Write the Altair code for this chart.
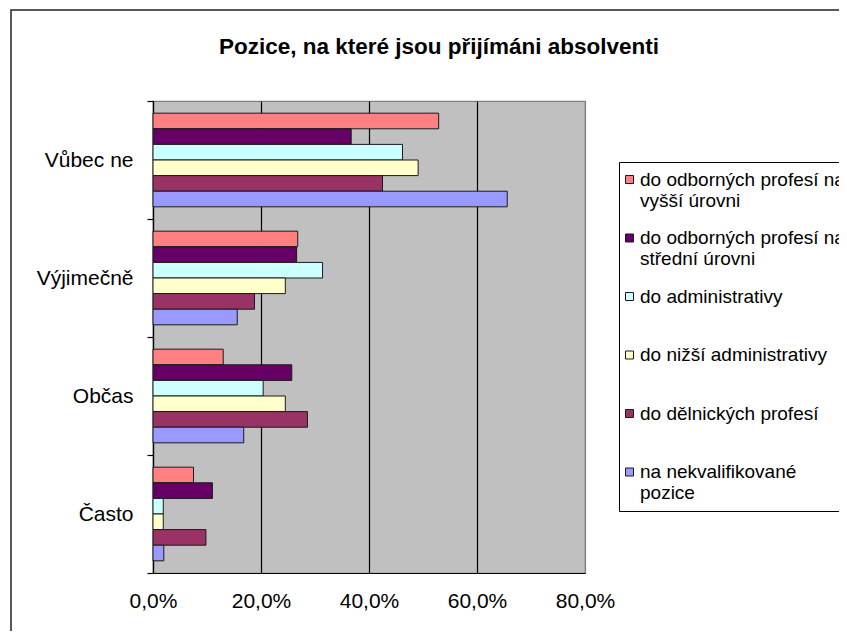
import json
import altair as alt
import pandas as pd

chart_title = "Pozice, na které jsou přijímáni absolventi"
categories = ["Vůbec ne", "Výjimečně", "Občas", "Často"]
series = [
    "do odborných profesí na vyšší úrovni",
    "do odborných profesí na střední úrovni",
    "do administrativy",
    "do nižší administrativy",
    "do dělnických profesí",
    "na nekvalifikované pozice",
]
legend_lines = [
    ["do odborných profesí na", "vyšší úrovni"],
    ["do odborných profesí na", "střední úrovni"],
    ["do administrativy", ""],
    ["do nižší administrativy", ""],
    ["do dělnických profesí", ""],
    ["na nekvalifikované", "pozice"],
]
colors = ["#FF8080", "#660066", "#CCFFFF", "#FFFFCC", "#993366", "#9999FF"]

values_vubec_ne = [52.9, 36.7, 46.2, 49.1, 42.5, 65.6]
values_vyjimecne = [26.8, 26.6, 31.4, 24.5, 18.8, 15.6]
values_obcas = [13.0, 25.7, 20.4, 24.5, 28.6, 16.8]
values_casto = [7.5, 11.0, 1.9, 1.9, 9.8, 2.0]
x_ticks = [0, 20, 40, 60, 80]

rows = []
for cat, vals in zip(categories, [values_vubec_ne, values_vyjimecne, values_obcas, values_casto]):
    for s, v in zip(series, vals):
        rows.append({"kategorie": cat, "pozice": s, "hodnota": v})
df = pd.DataFrame(rows)

legend_expr = "".join(
    f"datum.label == {json.dumps(s, ensure_ascii=False)} ? {json.dumps(l, ensure_ascii=False)} : "
    for s, l in zip(series, legend_lines)
) + "datum.label"

FONT = "Liberation Sans"

bars = alt.Chart(df).mark_bar(stroke="#1a1a1a", strokeWidth=1).encode(
    x=alt.X(
        "hodnota:Q",
        scale=alt.Scale(domain=[0, 80], nice=False),
        axis=alt.Axis(
            values=x_ticks,
            title=None,
            labelExpr="replace(format(datum.value, '.1f'), '.', ',') + '%'",
            labelFlush=False,
            grid=True,
            gridColor={"condition": {"test": "datum.value >= 80", "value": "#808080"}, "value": "#000000"},
            gridWidth=1.2,
            gridOpacity=1,
            ticks=False,
            tickSize=0,
            domainColor="#000000",
            domainWidth=1.2,
            labelFontSize=21,
            labelColor="#000000",
            labelPadding=17,
            labelFont=FONT,
        ),
    ),
    y=alt.Y(
        "kategorie:N",
        sort=categories,
        scale=alt.Scale(paddingInner=0, paddingOuter=0),
        axis=alt.Axis(
            title=None,
            tickBand="extent",
            tickSize=6,
            tickColor="#000000",
            tickWidth=1.2,
            domainColor="#000000",
            domainWidth=1.2,
            labelFontSize=21,
            labelColor="#000000",
            labelPadding=14,
            labelFont=FONT,
            grid=False,
        ),
    ),
    yOffset=alt.YOffset(
        "pozice:N",
        sort=series,
        scale=alt.Scale(domain=series, paddingOuter=0.78, paddingInner=0),
    ),
    color=alt.Color(
        "pozice:N",
        scale=alt.Scale(domain=series, range=colors),
        legend=alt.Legend(
            title=None,
            orient="none",
            legendX=466,
            legendY=61,
            labelExpr=legend_expr,
            labelFontSize=19,
            labelFont=FONT,
            labelColor="#000000",
            labelLimit=300,
            labelOffset=1,
            labelBaseline="middle",
            symbolType="square",
            symbolSize=64,
            symbolOffset=-7,
            symbolStrokeColor="#1a1a1a",
            symbolStrokeWidth=1,
            symbolOpacity=1,
            strokeColor="#000000",
            fillColor="#FFFFFF",
            padding=8,
            rowPadding=17.5,
        ),
    ),
)

frame = alt.Chart(pd.DataFrame({"a": [0]})).mark_rect(
    fill="transparent", stroke="#222222", strokeWidth=1.5
).encode(
    x=alt.value(-142),
    y=alt.value(-91),
    x2=alt.value(2000),
    y2=alt.value(2000),
)

chart = alt.layer(frame, bars).properties(
    width=432,
    height=472,
    autosize=alt.AutoSizeParams(type="none"),
    padding={"left": 145, "top": 93, "right": 254, "bottom": 58},
    title=alt.TitleParams(
        text=chart_title,
        font=FONT,
        fontSize=22.5,
        fontWeight="bold",
        color="#000000",
        anchor="middle",
        frame="group",
        dx=70,
        offset=-67,
        baseline="alphabetic",
    ),
).configure(
    background="#FFFFFF", font=FONT
).configure_view(
    fill="#C0C0C0", stroke="#808080", strokeWidth=1.2
)

chart.save("out.html", embed_options={"renderer": "svg", "actions": False})
